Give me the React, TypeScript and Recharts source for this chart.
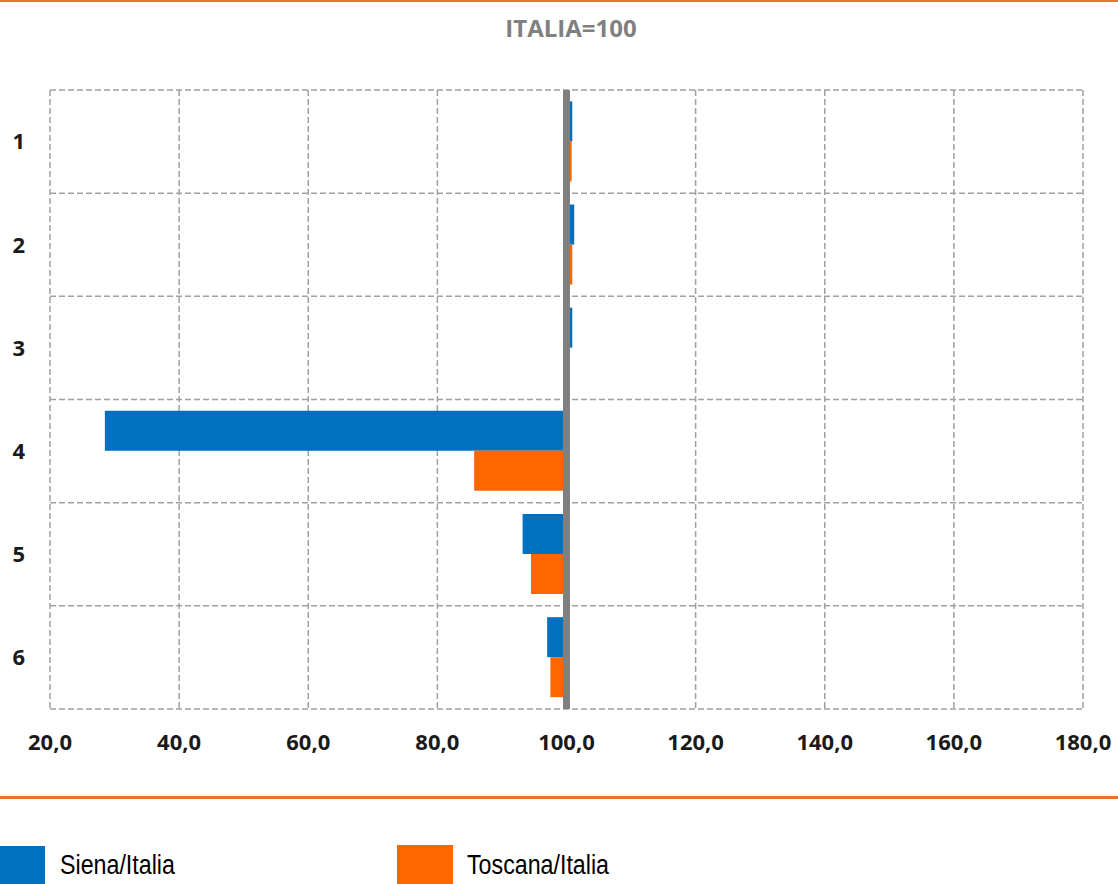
import { Bar, BarChart, CartesianGrid, ReferenceLine, XAxis, YAxis } from 'recharts'

const categories = ['1', '2', '3', '4', '5', '6']
const sienaValues = [100.9, 101.2, 100.9, 28.5, 93.2, 97.0]
const toscanaValues = [100.8, 100.9, 100.4, 85.7, 94.5, 97.5]
const xTicks = [20, 40, 60, 80, 100, 120, 140, 160, 180]
const gridRows = [0, 1, 2, 3, 4, 5, 6]

const BASE = 100
const ORANGE_LINE = '#E97132'

const chartData = categories.map((c, i) => ({
  cat: c,
  siena: sienaValues[i],
  toscana: toscanaValues[i],
}))

// bars grow from the Italia=100 baseline
const span = (v: number) => [Math.min(BASE, v), Math.max(BASE, v)]

const fmt = (v: number) => v.toFixed(1).replace('.', ',')

const legendText = {
  position: 'absolute' as const,
  top: 846,
  fontFamily: '"Liberation Sans", Arial, sans-serif',
  fontSize: 27,
  lineHeight: '38px',
  color: '#000',
  transform: 'scaleX(0.86)',
  transformOrigin: 'left center',
  whiteSpace: 'nowrap' as const,
}

export default function App() {
  return (
    <div style={{ position: 'absolute', left: 0, top: 0, width: 1118, height: 884, background: '#fff', overflow: 'hidden' }}>
      <div style={{ position: 'absolute', left: 0, top: 0, width: 1118, height: 2, background: ORANGE_LINE }} />
      <div
        style={{
          position: 'absolute',
          left: 471,
          top: 11,
          width: 200,
          textAlign: 'center',
          fontFamily: '"Open Sans", sans-serif',
          fontWeight: 700,
          fontSize: 24,
          color: '#808080',
          lineHeight: '34px',
        }}
      >
        ITALIA=100
      </div>
      <div style={{ position: 'absolute', left: 0, top: 0 }}>
        <BarChart
          width={1118}
          height={790}
          data={chartData}
          layout="vertical"
          margin={{ top: 90, right: 35, left: 0, bottom: 31 }}
          barCategoryGap="11%"
          barGap={0}
        >
          <CartesianGrid
            stroke="#A0A0A0"
            strokeWidth={1.5}
            strokeDasharray="6 3"
            horizontalCoordinatesGenerator={({ offset }: any) =>
              gridRows.map((i) => offset.top + (offset.height * i) / categories.length)
            }
          />
          <XAxis
            type="number"
            domain={[20, 180]}
            ticks={xTicks}
            allowDataOverflow
            axisLine={false}
            tickLine={false}
            tickSize={0}
            tickMargin={25}
            height={50}
            tickFormatter={(v) => fmt(Number(v))}
            tick={{ fill: '#1a1a1a', fontSize: 22, fontWeight: 700, fontFamily: '"Open Sans", sans-serif' }}
          />
          <YAxis
            type="category"
            dataKey="cat"
            width={50}
            axisLine={false}
            tickLine={false}
            tickSize={0}
            tickMargin={25}
            tick={{ fill: '#1a1a1a', fontSize: 22, fontWeight: 700, fontFamily: '"Open Sans", sans-serif' }}
          />
          <Bar dataKey={(d: any) => span(d.siena)} fill="#0070C0" isAnimationActive={false} />
          <Bar dataKey={(d: any) => span(d.toscana)} fill="#FF6600" isAnimationActive={false} />
          <ReferenceLine x={BASE} stroke="#808080" strokeWidth={7} />
        </BarChart>
      </div>
      <div style={{ position: 'absolute', left: 0, top: 796, width: 1118, height: 3, background: ORANGE_LINE }} />
      <div style={{ position: 'absolute', left: 0, top: 846, width: 45, height: 38, background: '#0070C0' }} />
      <div style={{ ...legendText, left: 60 }}>Siena/Italia</div>
      <div style={{ position: 'absolute', left: 397, top: 845, width: 56, height: 39, background: '#FF6600' }} />
      <div style={{ ...legendText, left: 467 }}>Toscana/Italia</div>
    </div>
  )
}
